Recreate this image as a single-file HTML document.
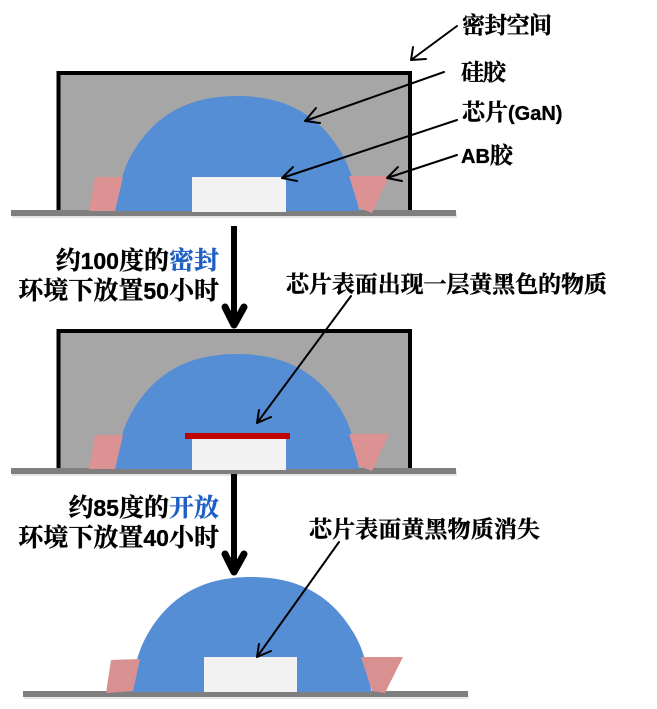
<!DOCTYPE html>
<html lang="zh">
<head>
<meta charset="utf-8">
<title>芯片表面变化示意图</title>
<style>
html,body{margin:0;padding:0;background:#fff;width:657px;height:709px;overflow:hidden}
svg{display:block}
text{font-family:"Liberation Sans","Noto Serif CJK SC",serif;font-weight:700;fill:#000;stroke:#000;stroke-width:.35px}
.s{font-size:23px}
.m{font-size:25px}
.d{font-size:23px}
.blue{fill:#1f5fc4;stroke:#1f5fc4}
.thin{fill:none;stroke:#000;stroke-width:2;stroke-linecap:round;stroke-linejoin:round}
.shaft{fill:none;stroke:#000;stroke-width:6}
.big{fill:none;stroke:#000;stroke-width:7;stroke-linecap:round;stroke-linejoin:round}
</style>
</head>
<body>
<svg width="657" height="709" viewBox="0 0 657 709" xmlns="http://www.w3.org/2000/svg">
  <!-- Panel 1 -->
  <rect x="58.5" y="73" width="351.5" height="140" fill="#a6a6a6" stroke="#000" stroke-width="4"/>
  <rect x="12" y="213" width="445" height="5" fill="#e4e4e4"/>
  <rect x="11" y="210" width="445" height="6" fill="#7f7f7f"/>
  <path d="M115 211C118.600 191 121 172 133 152C157 112 192 96 237 96C282 96 317 112 341 152C353 172 355.400 191 359 211Z" fill="#558ed5"/>
  <rect x="192" y="177" width="94" height="35" fill="#f2f2f2"/>
  <polygon points="95,177 123,177 115,211 89,211" fill="#dc9292"/>
  <polygon points="349,176 389,176 372,213 359,208" fill="#dc9292"/>

  <!-- Panel 2 -->
  <rect x="58.5" y="331" width="351.5" height="140" fill="#a6a6a6" stroke="#000" stroke-width="4"/>
  <rect x="12" y="471" width="445" height="5" fill="#e4e4e4"/>
  <rect x="11" y="468" width="445" height="6" fill="#7f7f7f"/>
  <path d="M115 469C118.600 449 121 430 133 410C157 370 192 354 237 354C282 354 317 370 341 410C353 430 355.400 449 359 469Z" fill="#558ed5"/>
  <rect x="192" y="435" width="94" height="35" fill="#f2f2f2"/>
  <rect x="185" y="433" width="105" height="6" fill="#c00000"/>
  <polygon points="95,435 123,435 115,469 89,469" fill="#dc9292"/>
  <polygon points="349,434 389,434 372,471 359,466" fill="#dc9292"/>

  <!-- Panel 3 -->
  <rect x="24" y="694" width="445" height="5" fill="#e8e8e8"/>
  <rect x="23" y="691" width="445" height="6" fill="#7f7f7f"/>
  <path transform="translate(251 481) scale(.988 1) translate(-237 0)" d="M115 211C118.600 191 121 172 133 152C157 112 192 96 237 96C282 96 317 112 341 152C353 172 355.400 191 359 211Z" fill="#558ed5"/>
  <rect x="204" y="657" width="93" height="35" fill="#f2f2f2"/>
  <polygon points="111,660 140,659 133,691 106,693" fill="#d99090"/>
  <polygon points="361,657 403,657 385,693 372,691" fill="#d99090"/>

  <!-- Thin arrows -->
  <path class="thin" d="M457 26L411 60M413 47L411 60L426 59"/>
  <path class="thin" d="M444 72L305 121M316 108L305 121L320 123"/>
  <path class="thin" d="M457 120L282 178M293 167L282 178L297 181"/>
  <path class="thin" d="M457 155L387 178M398 167L387 178L402 181"/>
  <path class="thin" d="M351 296L257 423M259 410L257 423L271 417"/>
  <path class="thin" d="M339 542L257 657M259 644L257 657L271 651"/>

  <!-- Big arrows -->
  <path class="shaft" d="M234 226V324"/>
  <path class="big" d="M225 307L234 325L244 307"/>
  <path class="shaft" d="M234 474V572"/>
  <path class="big" d="M225 554L234 572L244 554"/>

  <!-- Labels -->
  <text class="s" x="462" y="33" textLength="90">密封空间</text>
  <text class="s" x="461" y="80" textLength="45">硅胶</text>
  <text x="462" y="120" style="font-size:23px">芯片<tspan style="font-size:20px">(GaN)</tspan></text>
  <text x="461" y="163" style="font-size:23px"><tspan style="font-size:20px">AB</tspan>胶</text>

  <text class="m" x="219" y="269" text-anchor="end">约<tspan class="d">100</tspan>度的<tspan class="blue">密封</tspan></text>
  <text class="m" x="219" y="299" text-anchor="end">环境下放置<tspan class="d">50</tspan>小时</text>
  <text class="s" x="286" y="292" textLength="321">芯片表面出现一层黄黑色的物质</text>

  <text class="m" x="219" y="516" text-anchor="end">约<tspan class="d">85</tspan>度的<tspan class="blue">开放</tspan></text>
  <text class="m" x="219" y="546" text-anchor="end">环境下放置<tspan class="d">40</tspan>小时</text>
  <text class="s" x="309" y="537" textLength="231">芯片表面黄黑物质消失</text>
</svg>
</body>
</html>
